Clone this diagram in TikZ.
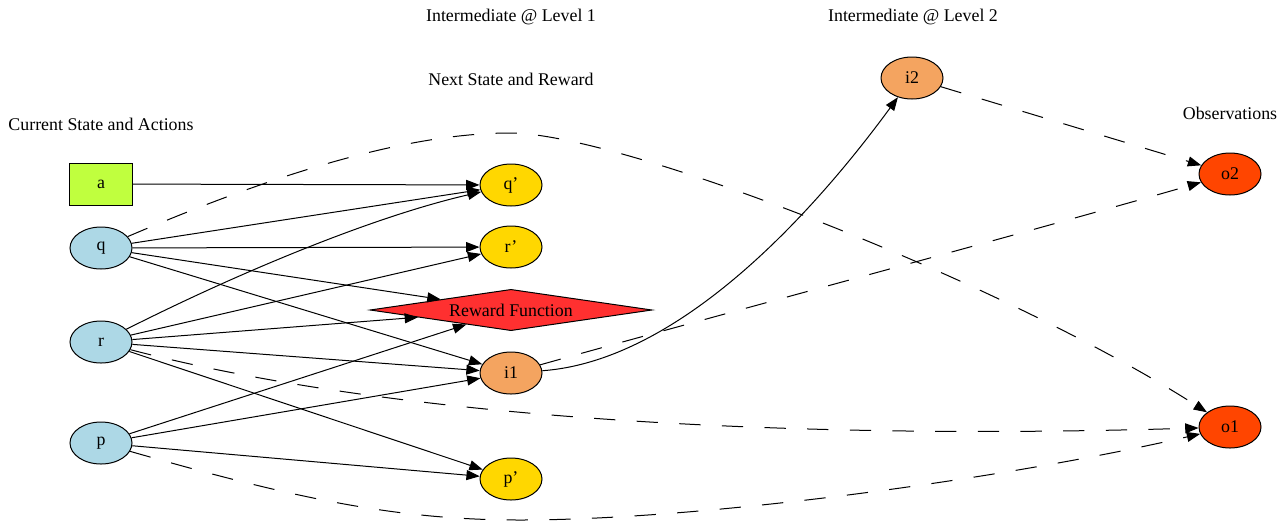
\documentclass[tikz,border=0pt]{standalone}
\usepackage{fontspec}
\setmainfont{Liberation Serif}
\usepackage{tikz}
\usetikzlibrary{arrows.meta,shapes.geometric}

\definecolor{actgreen}{HTML}{C0FF3E}
\definecolor{curblue}{HTML}{ADD8E6}
\definecolor{nxtgold}{HTML}{FFD700}
\definecolor{rewred}{HTML}{FF3030}
\definecolor{midbrown}{HTML}{F4A460}
\definecolor{obsorange}{HTML}{FF4500}

\tikzset{
  act/.style={rectangle, draw, fill=actgreen, minimum width=47pt, minimum height=31.5pt, inner sep=0pt},
  cur/.style={ellipse, draw, fill=curblue, minimum width=46.5pt, minimum height=31.5pt, inner sep=0pt},
  nxt/.style={ellipse, draw, fill=nxtgold, minimum width=46.5pt, minimum height=31.5pt, inner sep=0pt},
  midl/.style={ellipse, draw, fill=midbrown, minimum width=46.5pt, minimum height=31.5pt, inner sep=0pt},
  obsv/.style={ellipse, draw, fill=obsorange, minimum width=46.5pt, minimum height=31.5pt, inner sep=0pt},
  rew/.style={diamond, draw, fill=rewred, aspect=6.9, minimum width=211.5pt, minimum height=31pt, inner sep=0pt},
  obsedge/.style={dash pattern=on 16pt off 16pt}
}

\begin{document}
\begin{tikzpicture}[x=0.75pt, y=-0.75pt, line width=0.75pt, >={Triangle[length=10pt,width=7.5pt]},
    font=\fontsize{13.4}{16}\selectfont]
    \useasboundingbox (0,0) rectangle (1288,522);

    % column headings
    \node (hcur) at (101,124) {Current State and Actions};
    \node (hnxt) at (511,79) {Next State and Reward};
    \node (hlev1) at (511,17) {Intermediate @ Level 1};
    \node (hlev2) at (913,17) {Intermediate @ Level 2};
    \node (hobs) at (1230,113) {Observations};

    % current state and actions
    \node[act] (a) at (101,184) {a};
    \node[cur] (q) at (101,248) {q};
    \node[cur] (r) at (101,342) {r};
    \node[cur] (p) at (101,443) {p};

    % next state, reward, intermediates
    \node[nxt] (qn) at (511,185) {q'};
    \node[nxt] (rn) at (511,247) {r'};
    \node[rew] (rf) at (511,310) {Reward Function};
    \node[midl] (i1) at (511,373) {i1};
    \node[nxt] (pn) at (511,479) {p'};
    \node[midl] (i2) at (912,78) {i2};

    % observations
    \node[obsv] (o2) at (1230,174) {o2};
    \node[obsv] (o1) at (1230,427) {o1};

    \coordinate (qtop) at (510,133);
    \coordinate (pbot) at (520,520);

    \draw[->] (a) -- (qn);
    \draw[->] (q) -- (qn);
    \draw[->] (q) -- (rn);
    \draw[->] (q) -- (rf);
    \draw[->] (q) -- (i1);
    \draw[->] (r) .. controls (250,267) and (380,215) .. (qn);
    \draw[->] (r) -- (rn);
    \draw[->] (r) -- (rf);
    \draw[->] (r) -- (i1);
    \draw[->] (r) -- (pn);
    \draw[->] (p) -- (rf);
    \draw[->] (p) -- (i1);
    \draw[->] (p) -- (pn);
    \draw[->] (i1) .. controls (690,360) and (830,190) .. (i2);

    \draw[->, obsedge] (q) .. controls (260,180) and (400,133) .. (qtop)
        .. controls (620,133) and (1000,280) .. (o1);
    \draw[->, obsedge] (r) .. controls (400,420) and (800,440) .. (o1);
    \draw[->, obsedge] (p) .. controls (300,500) and (400,520) .. (pbot)
        .. controls (700,520) and (1000,480) .. (o1);
    \draw[->, obsedge] (i1) .. controls (700,320) and (1000,240) .. (o2);
    \draw[->, obsedge] (i2) -- (o2);
\end{tikzpicture}
\end{document}
